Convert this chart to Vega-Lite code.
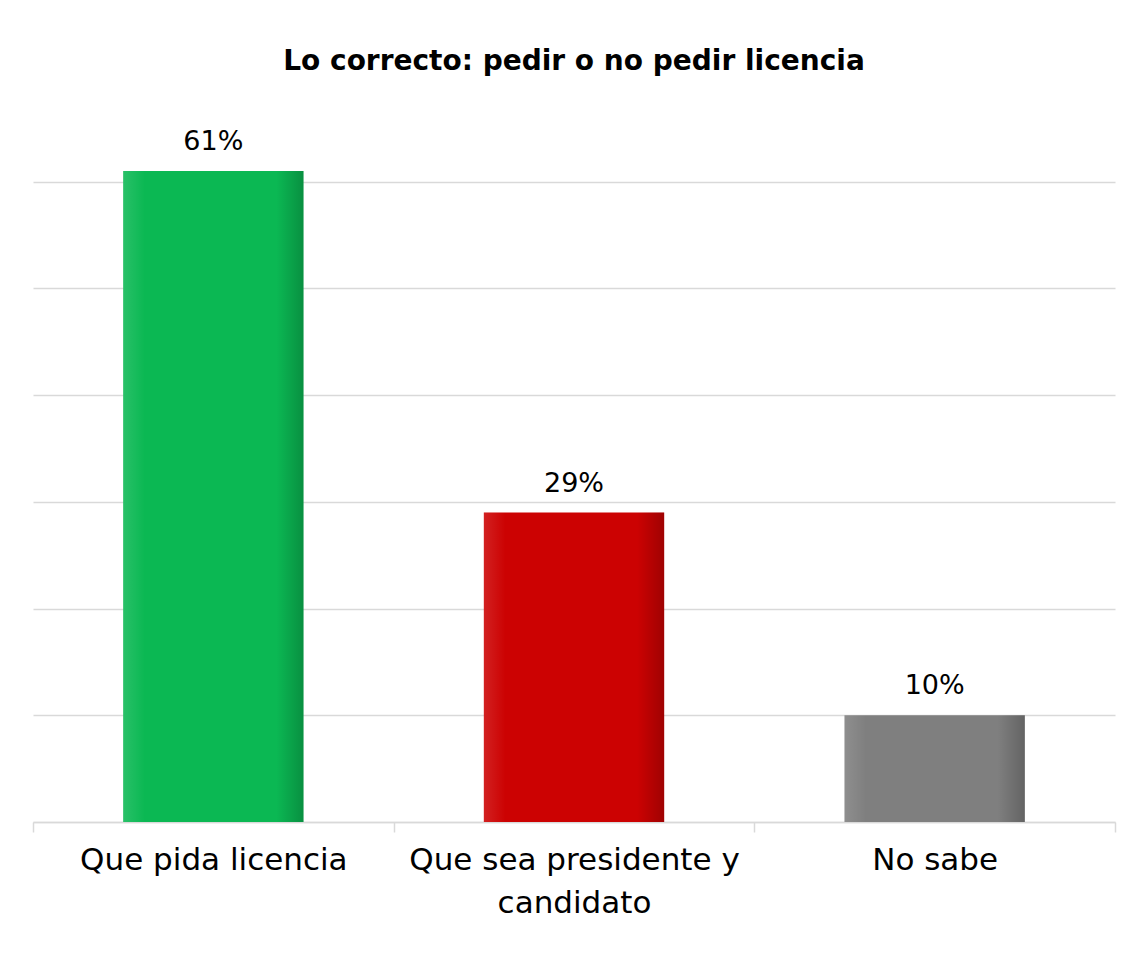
{
  "$schema": "https://vega.github.io/schema/vega-lite/v6.json",
  "width": 1082,
  "height": 747,
  "autosize": {"type": "none"},
  "padding": {"left": 33, "top": 75, "right": 15, "bottom": 152},
  "background": "white",
  "title": {
    "text": "Lo correcto: pedir o no pedir licencia",
    "font": "DejaVu Sans",
    "fontSize": 28,
    "fontWeight": "bold",
    "color": "#000000",
    "anchor": "middle",
    "baseline": "alphabetic",
    "offset": -23
  },
  "data": {
    "values": [
      {"respuesta": "Que pida licencia", "valor": 0.61},
      {"respuesta": "Que sea presidente y candidato", "valor": 0.29},
      {"respuesta": "No sabe", "valor": 0.10}
    ]
  },
  "encoding": {
    "x": {
      "field": "respuesta",
      "type": "nominal",
      "sort": null,
      "scale": {"paddingInner": 0, "paddingOuter": 0},
      "axis": {
        "title": null,
        "labelAngle": 0,
        "labelFont": "DejaVu Sans",
        "labelFontSize": 31,
        "labelColor": "#000000",
        "labelPadding": 13,
        "labelLineHeight": 43,
        "labelExpr": "datum.value == 'Que sea presidente y candidato' ? ['Que sea presidente y', 'candidato'] : datum.value",
        "tickBand": "extent",
        "tickSize": 10,
        "tickColor": "#d9d9d9",
        "tickWidth": 1.5,
        "domainColor": "#d9d9d9",
        "domainWidth": 1.5,
        "labelLimit": 400
      }
    },
    "y": {
      "field": "valor",
      "type": "quantitative",
      "scale": {"domain": [0, 0.7]},
      "axis": {
        "title": null,
        "labels": false,
        "ticks": false,
        "domain": false,
        "values": [0, 0.1, 0.2, 0.3, 0.4, 0.5, 0.6],
        "gridColor": "#d9d9d9",
        "gridWidth": 1.5
      }
    }
  },
  "layer": [
    {
      "mark": {"type": "bar", "width": {"band": 0.5}},
      "encoding": {
        "color": {
          "field": "respuesta",
          "type": "nominal",
          "legend": null,
          "scale": {
            "domain": ["Que pida licencia", "Que sea presidente y candidato", "No sabe"],
            "range": ["#0bb853", "#cc0202", "#7f7f7f"]
          }
        }
      }
    },
    {
      "mark": {
        "type": "bar",
        "width": {"band": 0.5},
        "color": {
          "gradient": "linear",
          "x1": 0, "y1": 0, "x2": 1, "y2": 0,
          "stops": [
            {"offset": 0, "color": "rgba(255,255,255,0.12)"},
            {"offset": 0.12, "color": "rgba(255,255,255,0)"},
            {"offset": 0.85, "color": "rgba(0,0,0,0)"},
            {"offset": 1, "color": "rgba(0,0,0,0.22)"}
          ]
        }
      }
    },
    {
      "mark": {
        "type": "text",
        "baseline": "bottom",
        "dy": -15,
        "font": "DejaVu Sans",
        "fontSize": 27,
        "color": "#000000"
      },
      "encoding": {
        "text": {"field": "valor", "type": "quantitative", "format": ".0%"}
      }
    }
  ],
  "config": {"view": {"stroke": null}}
}
